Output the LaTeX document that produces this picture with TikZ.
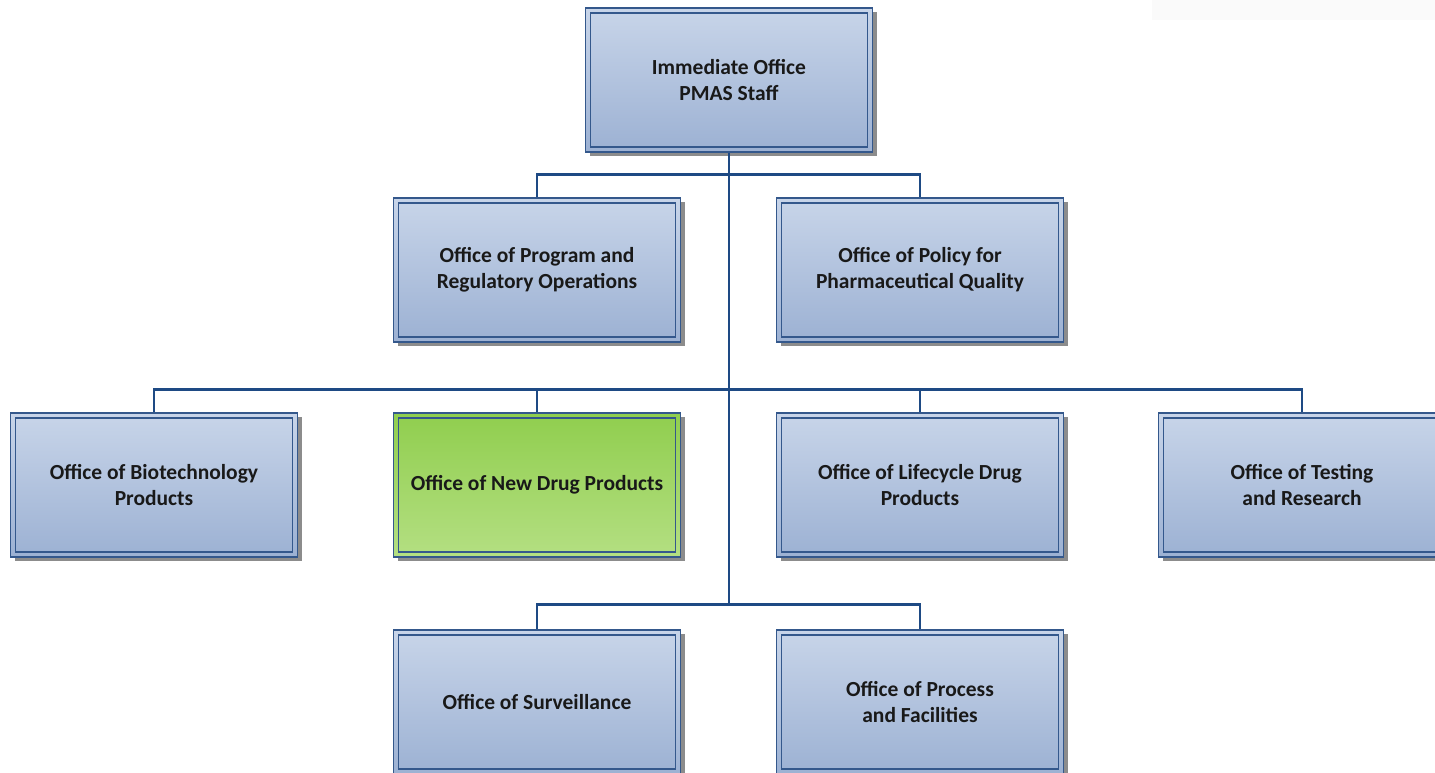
\documentclass[tikz,border=0pt]{standalone}
\usepackage{fontspec}
\setmainfont{Carlito}
\usetikzlibrary{shadows}
\definecolor{framecol}{RGB}{52,88,140}
\definecolor{linkcol}{RGB}{30,74,132}
\definecolor{boxtop}{RGB}{200,213,233}
\definecolor{boxbot}{RGB}{156,177,211}
\definecolor{leadtop}{RGB}{144,206,78}
\definecolor{leadbot}{RGB}{180,223,130}
\tikzset{%
  office/.style = {shape=rectangle, draw=framecol, line width=1.5pt,%
                   minimum width=287pt, minimum height=144pt,%
                   align=center, inner sep=0pt, text=black!90,%
                   top color=boxtop, bottom color=boxbot,%
                   font=\fontsize{21.5}{26}\selectfont\bfseries,%
                   drop shadow={shadow xshift=4pt, shadow yshift=-4pt,%
                                opacity=1, fill=black!45},%
                   path picture={\draw[framecol, line width=1.5pt]
                       ([shift={(5pt,5pt)}]path picture bounding box.south west)
                       rectangle ([shift={(-5pt,-5pt)}]path picture bounding box.north east);}},%
  lead/.style   = {office, top color=leadtop, bottom color=leadbot},%
  link/.style   = {draw=linkcol, line width=2.6pt}%
}
\begin{document}
\begin{tikzpicture}[x=1pt, y=-1pt]
  \useasboundingbox (0,0) rectangle (1435,773);
  % faint strip in the corner
  \fill[black!2] (1152,0) rectangle (1435,20);

  \node[office] (io)   at (729,80)  {Immediate Office\\PMAS Staff};

  \node[office] (opro) at (537,270) {Office of Program and\\Regulatory Operations};
  \node[office] (oppq) at (920,270) {Office of Policy for\\Pharmaceutical Quality};

  \node[office] (obp)  at (154,485) {Office of Biotechnology\\Products};
  \node[lead]   (ondp) at (537,485) {Office of New Drug Products};
  \node[office] (oldp) at (920,485) {Office of Lifecycle Drug\\Products};
  \node[office] (otr)  at (1302,485) {Office of Testing\\and Research};

  \node[office] (os)   at (537,702) {Office of Surveillance};
  \node[office] (opf)  at (920,702) {Office of Process\\and Facilities};

  \coordinate (hub) at (729,605);

  % connectors
  \draw[link] (io.south) -- (hub);
  \draw[link] (opro.north) -- ++(0,-23) -| (oppq.north);
  \draw[link] (obp.north) -- ++(0,-23) -| (otr.north);
  \draw[link] (ondp.north) -- ++(0,-23);
  \draw[link] (oldp.north) -- ++(0,-23);
  \draw[link] (os.north) -- ++(0,-25) -| (opf.north);
\end{tikzpicture}
\end{document}
